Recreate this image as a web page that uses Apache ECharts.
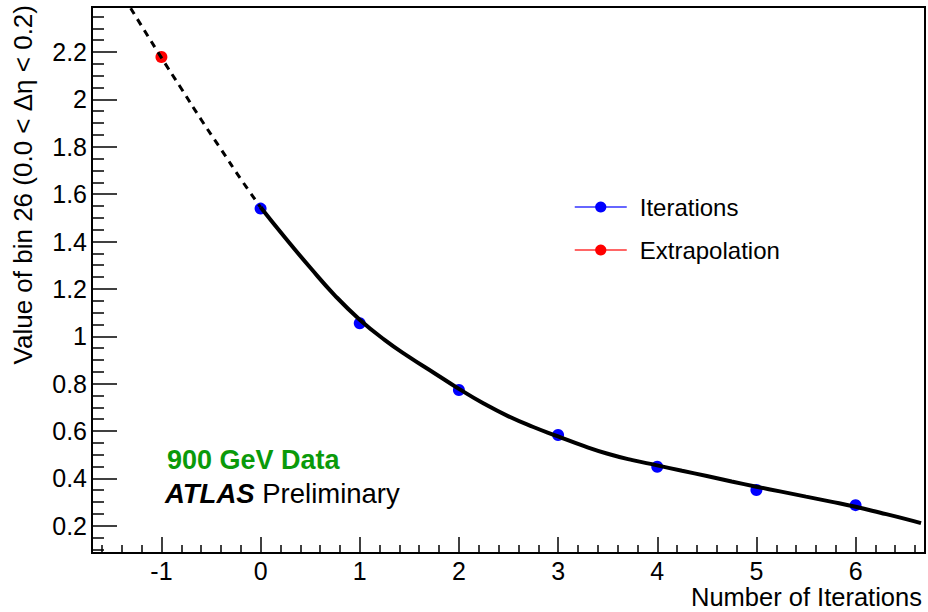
<!DOCTYPE html>
<html>
<head>
<meta charset="utf-8">
<script src="https://cdn.jsdelivr.net/npm/echarts@6/dist/echarts.min.js"></script>
<style>
  html, body { margin: 0; padding: 0; background: #fff; }
  #chart { width: 928px; height: 612px; }
</style>
</head>
<body>
<div id="chart"></div>
<script>
// Unfolding iterations: bin value per iteration, extrapolated to -1
const iterationX = [0, 1, 2, 3, 4, 5, 6];
const iterationY = [1.539, 1.055, 0.773, 0.583, 0.449, 0.351, 0.287];
const extrapX = [-1];
const extrapY = [2.179];

// Fitted curve (solid over measured iterations)
const fitX = [0, 0.25, 0.5, 0.75, 1.0, 1.25, 1.5, 1.75, 2.0, 2.25, 2.5, 2.75, 3.0, 3.25, 3.5, 3.75,
  4.0, 4.25, 4.5, 4.75, 5.0, 5.25, 5.5, 5.75, 6.0, 6.25, 6.5, 6.66];
const fitY = [1.545, 1.415, 1.290, 1.172, 1.070, 0.985, 0.912, 0.845, 0.778, 0.716, 0.662, 0.617, 0.577, 0.538, 0.504, 0.477,
  0.455, 0.432, 0.410, 0.387, 0.365, 0.344, 0.323, 0.302, 0.280, 0.255, 0.229, 0.211];

// Fitted curve continued backwards (dashed)
const fitExtX = [-1.31, -1.0, -0.8, -0.6, -0.4, -0.2, 0];
const fitExtY = [2.385, 2.176, 2.046, 1.915, 1.790, 1.664, 1.545];

// Axis ticks
const xMajorTicks = [-1, 0, 1, 2, 3, 4, 5, 6];
const xMinorTicks = [-1.6, -1.4, -1.2, -0.8, -0.6, -0.4, -0.2, 0.2, 0.4, 0.6, 0.8, 1.2, 1.4, 1.6, 1.8,
  2.2, 2.4, 2.6, 2.8, 3.2, 3.4, 3.6, 3.8, 4.2, 4.4, 4.6, 4.8, 5.2, 5.4, 5.6, 5.8, 6.2, 6.4, 6.6];
const yMajorTicks = [0.2, 0.4, 0.6, 0.8, 1, 1.2, 1.4, 1.6, 1.8, 2, 2.2];
const yMinorTicks = [0.1, 0.15, 0.25, 0.3, 0.35, 0.45, 0.5, 0.55, 0.65, 0.7, 0.75, 0.85, 0.9, 0.95,
  1.05, 1.1, 1.15, 1.25, 1.3, 1.35, 1.45, 1.5, 1.55, 1.65, 1.7, 1.75, 1.85, 1.9, 1.95,
  2.05, 2.1, 2.15, 2.25, 2.3, 2.35];

const X_MIN = -1.7, X_MAX = 6.7, Y_MIN = 0.085, Y_MAX = 2.39;
const FONT = 'Liberation Sans, Arial, Helvetica, sans-serif';

const zip = (xs, ys) => xs.map((x, i) => [x, ys[i]]);

const chart = echarts.init(document.getElementById('chart'), null, { renderer: 'svg' });

const baseX = {
  type: 'value', min: X_MIN, max: X_MAX, position: 'bottom',
  splitLine: { show: false },
  axisLine: { show: true, onZero: false, lineStyle: { color: '#000', width: 2 } }
};
const baseY = {
  type: 'value', min: Y_MIN, max: Y_MAX, position: 'left',
  splitLine: { show: false },
  axisLine: { show: true, onZero: false, lineStyle: { color: '#000', width: 2 } }
};

chart.setOption({
  animation: false,
  backgroundColor: '#fff',
  grid: { left: 92, right: 3, top: 7, bottom: 59, show: true, borderColor: '#000', borderWidth: 2 },
  xAxis: [
    Object.assign({}, baseX, {
      axisTick: { show: true, inside: true, length: 16, customValues: xMajorTicks, lineStyle: { color: '#000', width: 1.5 } },
      axisLabel: { show: true, customValues: xMajorTicks, margin: 5, color: '#000', fontSize: 25, fontFamily: FONT }
    }),
    Object.assign({}, baseX, {
      axisTick: { show: true, inside: true, length: 8, customValues: xMinorTicks, lineStyle: { color: '#000', width: 1.5 } },
      axisLabel: { show: false }
    })
  ],
  yAxis: [
    Object.assign({}, baseY, {
      axisTick: { show: true, inside: true, length: 25, customValues: yMajorTicks, lineStyle: { color: '#000', width: 1.5 } },
      axisLabel: { show: true, customValues: yMajorTicks, margin: 5, color: '#000', fontSize: 25, fontFamily: FONT }
    }),
    Object.assign({}, baseY, {
      axisTick: { show: true, inside: true, length: 12, customValues: yMinorTicks, lineStyle: { color: '#000', width: 1.5 } },
      axisLabel: { show: false }
    })
  ],
  legend: {
    orient: 'vertical', left: 569, top: 190,
    itemWidth: 52, itemHeight: 14, itemGap: 19,
    data: ['Iterations', 'Extrapolation'],
    lineStyle: { opacity: 1, width: 1.5 },
    textStyle: { color: '#000', fontSize: 24, fontFamily: FONT, padding: [0, 0, 0, 8] }
  },
  series: [
    {
      name: 'Iterations', type: 'line', data: zip(iterationX, iterationY),
      symbol: 'circle', symbolSize: 12, z: 2,
      itemStyle: { color: '#0000ff' },
      lineStyle: { color: '#3333ff', opacity: 0, width: 0 }
    },
    {
      name: 'Extrapolation', type: 'line', data: zip(extrapX, extrapY),
      symbol: 'circle', symbolSize: 12, z: 2,
      itemStyle: { color: '#ff0000' },
      lineStyle: { color: '#ff3333', opacity: 0, width: 0 }
    },
    {
      name: 'fit', type: 'line', data: zip(fitX, fitY), smooth: 0.5,
      showSymbol: false, symbol: 'none', z: 3, clip: true,
      lineStyle: { color: '#000', width: 4 }
    },
    {
      name: 'fitExt', type: 'line', data: zip(fitExtX, fitExtY), smooth: 0.5,
      showSymbol: false, symbol: 'none', z: 3, clip: true,
      lineStyle: { color: '#000', width: 3, type: [7, 6] }
    }
  ],
  graphic: [
    {
      type: 'text', x: 23, y: 5, rotation: Math.PI / 2,
      style: { text: 'Value of bin 26 (0.0 < \u0394\u03b7 < 0.2)', align: 'right', verticalAlign: 'middle',
        fill: '#000', font: '26px ' + FONT }
    },
    {
      type: 'text', x: 922, y: 597,
      style: { text: 'Number of Iterations', align: 'right', verticalAlign: 'middle',
        fill: '#000', font: '25.5px ' + FONT }
    },
    {
      type: 'text', x: 167, y: 460,
      style: { text: '900 GeV Data', align: 'left', verticalAlign: 'middle',
        fill: '#0a9a0a', font: 'bold 27px ' + FONT }
    },
    {
      type: 'text', x: 165, y: 493,
      style: {
        text: '{a|ATLAS} Preliminary', align: 'left', verticalAlign: 'middle',
        fill: '#000', font: '27.5px ' + FONT,
        rich: { a: { fontWeight: 'bold', fontStyle: 'italic', fontSize: 27.5, fontFamily: FONT, fill: '#000' } }
      }
    }
  ]
});
</script>
</body>
</html>
